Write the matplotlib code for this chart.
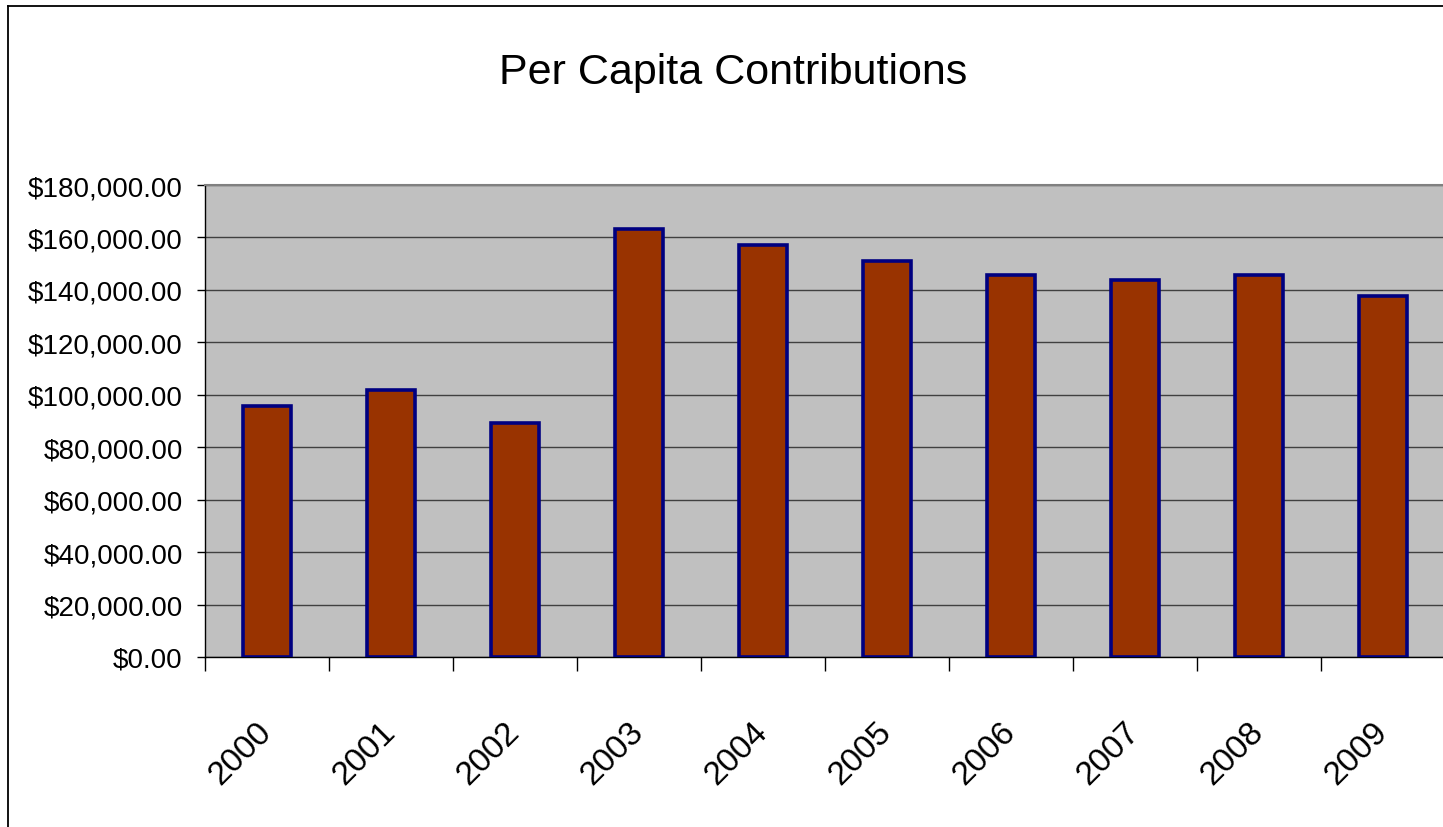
#!/usr/bin/env python3

import matplotlib
matplotlib.use("Agg")
import matplotlib.pyplot as plt
import numpy as np
from matplotlib.lines import Line2D
from matplotlib.ticker import FuncFormatter

# data
years = ["2000", "2001", "2002", "2003", "2004", "2005", "2006", "2007", "2008", "2009"]
contributions = [95700, 101800, 89300, 163200, 157100, 151000, 145700, 143800, 145700, 137700]

plt.rcParams['font.family'] = ['Liberation Sans Narrow', 'Liberation Sans', 'DejaVu Sans']

W, H = 1443, 828
fig = plt.figure(figsize=(W / 100, H / 100), dpi=100)
ax = fig.add_axes([205 / W, 170 / H, 1240 / W, 472 / H])
ax.set_facecolor("#c0c0c0")

x = np.arange(len(years))
ax.bar(x, contributions, width=0.39, color="#993300", edgecolor="#000080", linewidth=2.6, zorder=3)

ax.set_xlim(-0.5, len(years) - 0.5)
ax.set_ylim(0, 180000)
ax.set_yticks(np.arange(0, 180001, 20000))
ax.yaxis.set_major_formatter(FuncFormatter(lambda v, p: "${:,.2f}".format(v)))
ax.grid(axis="y", color="#404040", linewidth=1.0, zorder=1)
ax.set_axisbelow(True)

# category boundary ticks, labels at centres
ax.set_xticks(np.arange(len(years) + 1) - 0.5)
ax.set_xticklabels([])
ax.tick_params(axis="x", which="major", length=10, width=1, color="black", direction="out")
ax.set_xticks(x, minor=True)
ax.set_xticklabels(years, minor=True, rotation=45, ha="right", va="center",
                   rotation_mode="anchor", fontsize=24)
ax.tick_params(axis="x", which="minor", length=0, pad=50)
ax.tick_params(axis="y", length=6, width=1, pad=10, labelsize=20)

for s in ["left", "bottom"]:
    ax.spines[s].set_color("black")
    ax.spines[s].set_linewidth(1.0)
ax.spines["top"].set_color("#808080")
ax.spines["top"].set_linewidth(1.5)
ax.spines["right"].set_visible(False)

fig.text(733 / W, 1 - 73 / H, "Per Capita Contributions", ha="center", va="center", fontsize=31)

# outer chart border (left and top edges visible)
fig.add_artist(Line2D([7.5 / W, 7.5 / W], [0, 1 - 6.5 / H], color="black", linewidth=1.3))
fig.add_artist(Line2D([7.5 / W, 1], [1 - 6.5 / H, 1 - 6.5 / H], color="black", linewidth=1.3))

fig.savefig("out.png", dpi=100)
